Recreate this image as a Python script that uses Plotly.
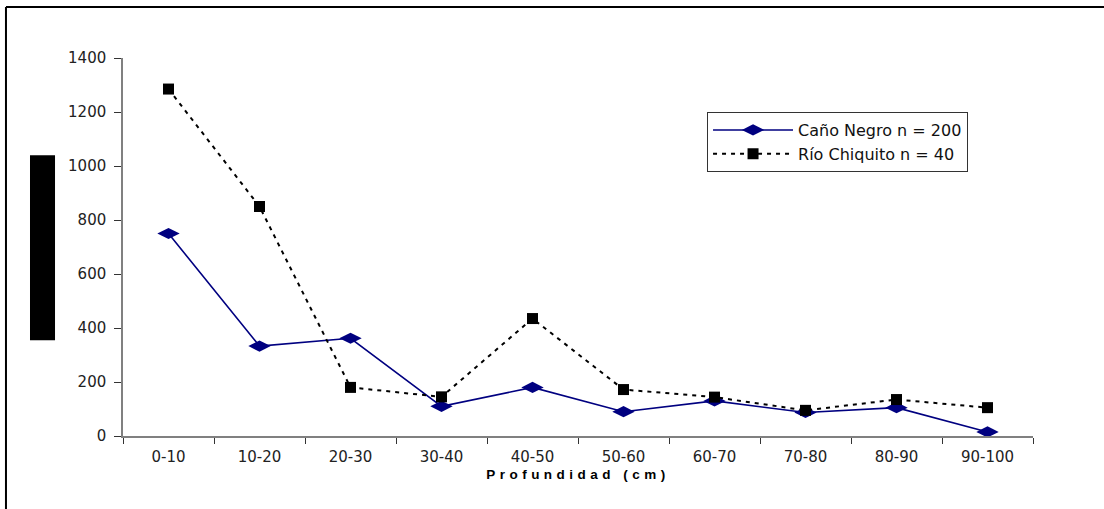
import plotly.graph_objects as go

# Depth classes (cm)
depths = ["0-10", "10-20", "20-30", "30-40", "40-50",
          "50-60", "60-70", "70-80", "80-90", "90-100"]

# Counts per depth class for each site
cano_negro = [750, 333, 362, 110, 180, 90, 130, 87, 105, 15]
rio_chiquito = [1285, 850, 180, 145, 435, 172, 144, 95, 135, 105]

y_ticks = [0, 200, 400, 600, 800, 1000, 1200, 1400]

tick_font = dict(family="DejaVu Sans, Verdana, sans-serif", size=15, color="#222222")

fig = go.Figure()

fig.add_trace(go.Scatter(
    x=depths, y=cano_negro, mode="lines+markers",
    name="Caño Negro n = 200",
    line=dict(color="#000080", width=1.6),
    marker=dict(symbol="diamond-wide", size=16, color="#000080"),
))

fig.add_trace(go.Scatter(
    x=depths, y=rio_chiquito, mode="lines+markers",
    name="Río Chiquito n = 40",
    line=dict(color="#000000", width=2, dash="4px,5px"),
    marker=dict(symbol="square", size=11, color="#000000"),
))

# Frame lines and the blocked-out y-axis title
shapes = [
    dict(type="line", xref="paper", yref="paper",
         x0=-0.1286, x1=-0.1286, y0=-0.3, y1=1.135,
         line=dict(color="black", width=2)),
    dict(type="line", xref="paper", yref="paper",
         x0=-0.1286, x1=1.2, y0=1.135, y1=1.135,
         line=dict(color="black", width=2)),
    dict(type="rect", xref="paper", yref="paper",
         x0=-0.1022, x1=-0.0747, y0=0.253, y1=0.743,
         fillcolor="black", line=dict(width=0)),
]

fig.update_layout(
    width=1104, height=509,
    margin=dict(l=123, r=71, t=58, b=73, pad=0),
    paper_bgcolor="white", plot_bgcolor="white",
    showlegend=True,
    legend=dict(
        x=0.6418, y=0.857, xanchor="left", yanchor="top",
        bgcolor="white", bordercolor="#333333", borderwidth=1,
        font=dict(family="DejaVu Sans, Verdana, sans-serif", size=16, color="#111111"),
        tracegroupgap=0, itemwidth=80,
    ),
    shapes=shapes,
    xaxis=dict(
        type="category", categoryorder="array", categoryarray=depths,
        range=[-0.5, 9.5], autorange=False,
        showgrid=False, zeroline=False,
        showline=True, linecolor="#808080", linewidth=1.5,
        ticks="outside", tickson="boundaries", ticklen=6, tickcolor="#333333",
        tickfont=tick_font, ticklabelstandoff=6,
        title=dict(
            text='<b><span style="letter-spacing:4.5px">Profundidad (cm)</span></b>',
            font=dict(family="Liberation Sans, Arial, sans-serif", size=13.5, color="black"),
            standoff=5,
        ),
    ),
    yaxis=dict(
        range=[0, 1400], tickvals=y_ticks,
        showgrid=False, zeroline=False,
        showline=True, linecolor="#808080", linewidth=1.5,
        ticks="outside", ticklen=7, tickcolor="#333333",
        tickfont=tick_font, ticklabelstandoff=5,
    ),
)

fig.write_html("out.html")
